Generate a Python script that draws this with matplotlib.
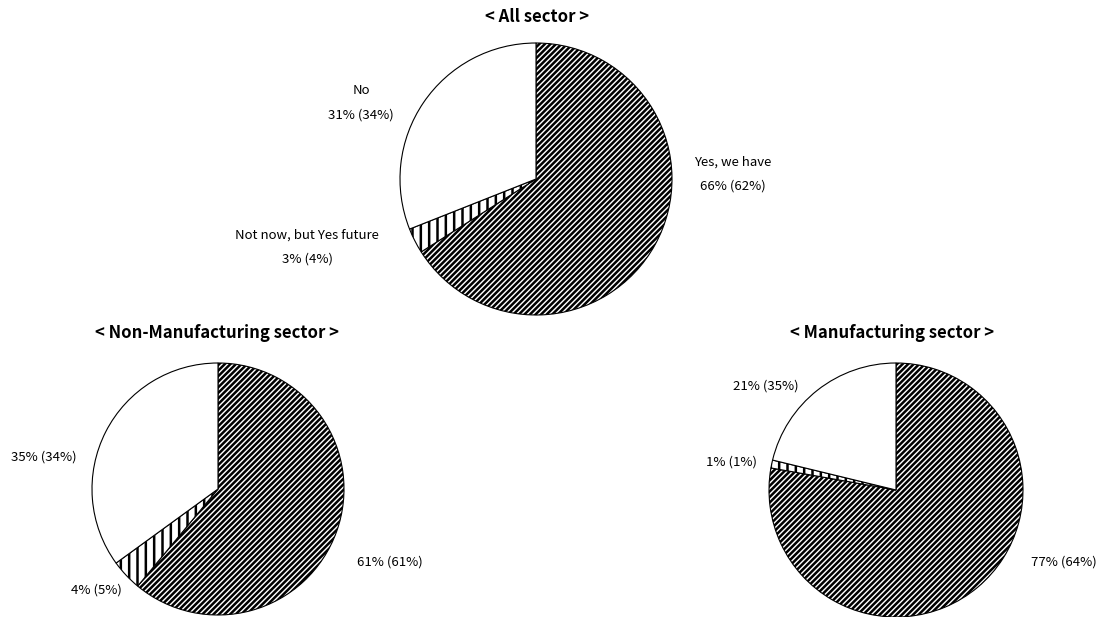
import matplotlib
matplotlib.use('Agg')
import matplotlib.pyplot as plt

plt.rcParams['font.family'] = ['Noto Sans CJK JP', 'DejaVu Sans']
plt.rcParams['hatch.linewidth'] = 1.8

# survey answers, this year and (last year)
categories = ['Yes, we have', 'Not now, but Yes future', 'No']
all_now = [66, 3, 31]
all_prev = [62, 4, 34]
nonmfg_now = [61, 4, 35]
nonmfg_prev = [61, 5, 34]
mfg_now = [77, 1, 21]
mfg_prev = [64, 1, 35]

W, H = 1107, 617
fig = plt.figure(figsize=(W / 100, H / 100), dpi=100)
ax = fig.add_axes([0, 0, 1, 1])

hatches = ['//////', '||', '']

def draw_pie(values, cx, cy, r):
    # cx, cy in pixel coords from top-left
    wedges, _ = ax.pie(values, center=(cx, H - cy), radius=r, startangle=90,
                       counterclock=False,
                       wedgeprops=dict(facecolor='white', edgecolor='black', linewidth=0.8))
    for w, h in zip(wedges, hatches):
        w.set_hatch(h)

def label(x, y, s, **kw):
    ax.text(x, H - y, s, ha='center', va='center', fontsize=9.5, **kw)

def title(x, y, s):
    ax.text(x, H - y, '< ' + s + ' >', ha='center', va='center',
            fontsize=12, fontweight='bold')

def pct(now, prev):
    return f'{now}% ({prev}%)'

# All sector
title(537, 17, 'All sector')
draw_pie(all_now, 536, 179, 136)
label(733, 162, categories[0])
label(733, 186, pct(all_now[0], all_prev[0]))
label(307, 235, categories[1])
label(307, 259, pct(all_now[1], all_prev[1]))
label(361, 91, categories[2])
label(361, 115, pct(all_now[2], all_prev[2]))

# Non-manufacturing
title(217, 333, 'Non-Manufacturing sector')
draw_pie(nonmfg_now, 218, 489, 126)
label(390, 562, pct(nonmfg_now[0], nonmfg_prev[0]))
label(96, 590, pct(nonmfg_now[1], nonmfg_prev[1]))
label(44, 457, pct(nonmfg_now[2], nonmfg_prev[2]))

# Manufacturing
title(892, 333, 'Manufacturing sector')
draw_pie(mfg_now, 896, 490, 127)
label(1064, 562, pct(mfg_now[0], mfg_prev[0]))
label(731, 462, pct(mfg_now[1], mfg_prev[1]))
label(766, 386, pct(mfg_now[2], mfg_prev[2]))

ax.set_xlim(0, W)
ax.set_ylim(0, H)
ax.set_aspect('equal')
ax.axis('off')

fig.savefig('out.png', dpi=100, facecolor='white')
